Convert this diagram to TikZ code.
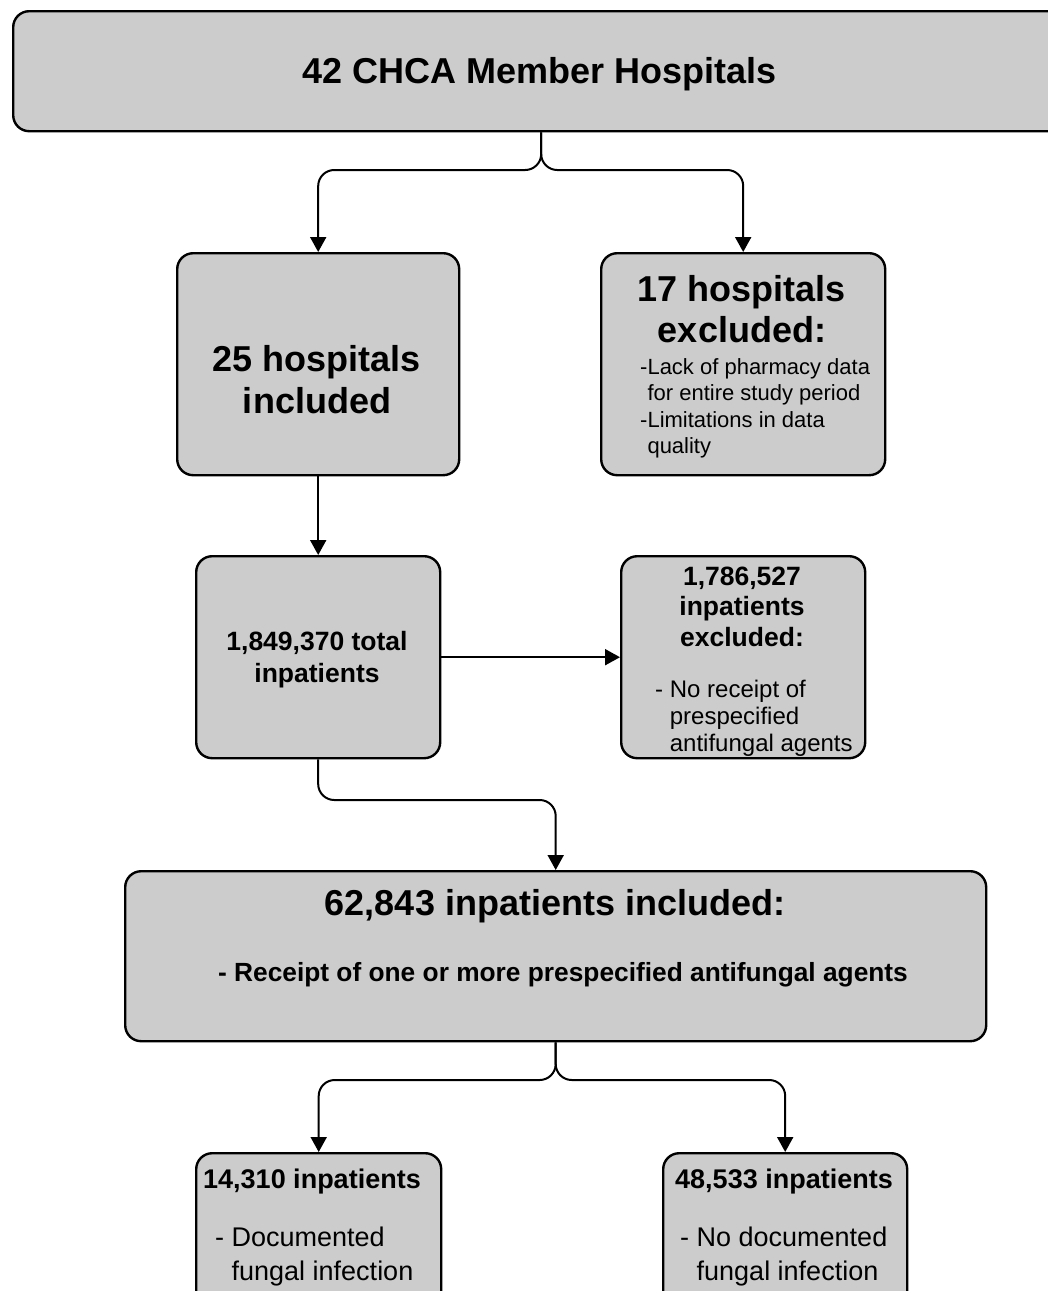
\documentclass[tikz,border=0pt]{standalone}
\usepackage{fontspec}
\setmainfont{Liberation Sans}
\usetikzlibrary{arrows.meta}
\definecolor{boxgray}{RGB}{204,204,204}
\begin{document}
\begin{tikzpicture}[x=1pt,y=-1pt,
  box/.style={draw=black, line width=2.4pt, rounded corners=16pt, fill=boxgray, inner sep=0pt, anchor=north west},
  arr/.style={draw=black, line width=2pt, rounded corners=16pt, -{Triangle[length=15pt,width=16pt]}},
  tx/.style={inner sep=0pt, anchor=base},
  txl/.style={inner sep=0pt, anchor=base west},
  bigb/.style={font=\fontsize{36}{42}\selectfont\bfseries},
  midb/.style={font=\fontsize{26.5}{30}\selectfont\bfseries},
  botb/.style={font=\fontsize{27}{30}\selectfont\bfseries},
  smr/.style={font=\fontsize{22}{26}\selectfont},
  midr/.style={font=\fontsize{24}{27}\selectfont},
  botr/.style={font=\fontsize{27}{30}\selectfont}]
\useasboundingbox (0,0) rectangle (1048,1291);
\clip (0,0) rectangle (1048,1291);

% boxes
\node[box, minimum width=1056pt, minimum height=120pt] (top) at (12,10) {};
\node[box, minimum width=282pt, minimum height=222pt] (b25) at (176,252) {};
\node[box, minimum width=284pt, minimum height=222pt] (ex17) at (600,252) {};
\node[box, minimum width=244pt, minimum height=202pt] (tot) at (195,555) {};
\node[box, minimum width=244pt, minimum height=202pt] (ex2) at (620,555) {};
\node[box, minimum width=861pt, minimum height=170pt] (inc) at (124,870) {};
\node[box, minimum width=245pt, minimum height=170pt] (f1) at (195,1152) {};
\node[box, minimum width=244pt, minimum height=170pt] (f2) at (662,1152) {};

% texts
\node[tx, bigb] (ttop) at (540,83) {42 CHCA Member Hospitals};

\node[tx, bigb] (t25a) at (317,371) {25 hospitals};
\node[tx, bigb] (t25b) at (317,413) {included};

\node[tx, bigb] (t17a) at (742,301) {17 hospitals};
\node[tx, bigb] (t17b) at (742,342) {excluded:};
\node[txl, smr] (t17c) at (640,374) {-Lack of pharmacy data};
\node[txl, smr] (t17d) at (640,400) {\hphantom{-}for entire study period};
\node[txl, smr] (t17e) at (640,427) {-Limitations in data};
\node[txl, smr] (t17f) at (640,453) {\hphantom{-}quality};

\node[tx, midb] (ttota) at (317,650) {1,849,370 total};
\node[tx, midb] (ttotb) at (317,682) {inpatients};

\node[tx, midb] (tex2a) at (742,585) {1,786,527};
\node[tx, midb] (tex2b) at (742,615) {inpatients};
\node[tx, midb] (tex2c) at (742,646) {excluded:};
\node[txl, midr] (tex2d) at (655,697) {- No receipt of};
\node[txl, midr] (tex2e) at (655,724) {\hphantom{- }prespecified};
\node[txl, midr] (tex2f) at (655,751) {\hphantom{- }antifungal agents};

\node[tx, bigb] (tinca) at (555,915) {62,843 inpatients included:};
\node[tx, font=\fontsize{26.3}{30}\selectfont\bfseries] (tincb) at (563,981) {- Receipt of one or more prespecified antifungal agents};

\node[tx, botb] (tf1a) at (312,1188) {14,310 inpatients};
\node[txl, botr] (tf1b) at (215,1246) {- Documented};
\node[txl, botr] (tf1c) at (215,1280) {\hphantom{- }fungal infection};

\node[tx, botb] (tf2a) at (784,1188) {48,533 inpatients};
\node[txl, botr] (tf2b) at (680,1246) {- No documented};
\node[txl, botr] (tf2c) at (680,1280) {\hphantom{- }fungal infection};

% connectors
\draw[arr] (top.south) -- (top.south |- 0,170) -- (b25.north |- 0,170) -- (b25.north);
\draw[arr] (top.south) -- (top.south |- 0,170) -- (ex17.north |- 0,170) -- (ex17.north);
\draw[arr] (b25.south) -- (tot.north);
\draw[arr] (tot.east) -- (ex2.west);
\draw[arr] (tot.south) -- (tot.south |- 0,800) -- (inc.north |- 0,800) -- (inc.north);
\draw[arr] (inc.south) -- (inc.south |- 0,1080) -- (f1.north |- 0,1080) -- (f1.north);
\draw[arr] (inc.south) -- (inc.south |- 0,1080) -- (f2.north |- 0,1080) -- (f2.north);
\end{tikzpicture}
\end{document}
